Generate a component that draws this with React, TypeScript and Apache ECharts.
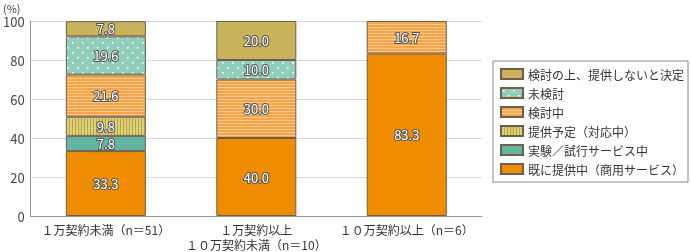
import React, { useEffect, useRef } from "react";
import * as echarts from "echarts";

const categories = [
  "１万契約未満（n＝51）",
  "１万契約以上\n１０万契約未満（n＝10）",
  "１０万契約以上（n＝6）",
];
const seriesNames = [
  "既に提供中（商用サービス）",
  "実験／試行サービス中",
  "提供予定（対応中）",
  "検討中",
  "未検討",
  "検討の上、提供しないと決定",
];
const providing = [33.3, 40.0, 83.3];
const trial = [7.8, null, null];
const planned = [9.8, null, null];
const considering = [21.6, 30.0, 16.7];
const notConsidered = [19.6, 10.0, null];
const decidedNot = [7.8, 20.0, null];
const yTicks = [0, 20, 40, 60, 80, 100];

function makeCanvas(w: number, h: number, draw: (c: CanvasRenderingContext2D) => void) {
  const cv = document.createElement("canvas");
  cv.width = w;
  cv.height = h;
  const ctx = cv.getContext("2d")!;
  draw(ctx);
  return { image: cv.toDataURL(), repeat: "repeat", imageWidth: w, imageHeight: h } as any;
}

export default function App() {
  const ref = useRef<HTMLDivElement>(null);
  useEffect(() => {
    if (!ref.current) return;
    const chart = echarts.init(ref.current, null, { renderer: "svg" });

    const hStripe = makeCanvas(4, 3, (c) => {
      c.fillStyle = "#F7A347";
      c.fillRect(0, 0, 4, 3);
      c.fillStyle = "#FCCB8F";
      c.fillRect(0, 0, 4, 1);
    });
    const vStripe = makeCanvas(3, 4, (c) => {
      c.fillStyle = "#DDD07A";
      c.fillRect(0, 0, 3, 4);
      c.fillStyle = "#B9A646";
      c.fillRect(0, 0, 1, 4);
    });
    const dots = makeCanvas(10, 10, (c) => {
      c.fillStyle = "#90CDBB";
      c.fillRect(0, 0, 10, 10);
      c.fillStyle = "#FFFFFF";
      c.fillRect(2, 2, 1.6, 1.6);
      c.fillRect(7, 7, 1.6, 1.6);
    });

    const fills: any[] = ["#F08C00", "#63B5A2", vStripe, hStripe, dots, "#C8B35A"];
    const datas = [providing, trial, planned, considering, notConsidered, decidedNot];

    const series = seriesNames.map((name, i) => ({
      name,
      type: "bar",
      stack: "total",
      barWidth: 80,
      data: datas[i],
      itemStyle: { color: fills[i], borderColor: "#6E5E4C", borderWidth: 1 },
      label: {
        show: true,
        position: "inside",
        color: "#FFFFFF",
        fontSize: 13,
        fontFamily: "Noto Sans CJK JP",
        textBorderColor: "#555555",
        textBorderWidth: 2,
        formatter: (p: any) => (p.value == null ? "" : Number(p.value).toFixed(1)),
      },
    }));

    chart.setOption({
      animation: false,
      textStyle: { fontFamily: "Noto Sans CJK JP" },
      grid: { left: 28, right: 209, top: 21, bottom: 31 },
      graphic: [
        {
          type: "text",
          left: 3,
          top: 2,
          style: { text: "(%)", fontSize: 11, fill: "#444", fontFamily: "Noto Sans CJK JP" },
        },
      ],
      legend: {
        orient: "vertical",
        left: 493,
        top: 61,
        width: 195,
        padding: [7, 4, 7, 7],
        itemWidth: 22,
        itemHeight: 10,
        itemGap: 7,
        icon: "rect",
        borderColor: "#888",
        borderWidth: 1,
        data: [...seriesNames].reverse(),
        textStyle: { fontSize: 12, color: "#333", fontFamily: "Noto Sans CJK JP" },
      },
      xAxis: {
        type: "category",
        data: categories,
        axisLine: { lineStyle: { color: "#999" } },
        axisTick: { inside: true, length: 5, lineStyle: { color: "#999" } },
        axisLabel: { color: "#333", fontSize: 12, lineHeight: 15, margin: 6, interval: 0 },
      },
      yAxis: {
        type: "value",
        min: yTicks[0],
        max: yTicks[yTicks.length - 1],
        interval: 20,
        axisLine: { show: true, lineStyle: { color: "#999" } },
        axisTick: { show: false },
        axisLabel: { color: "#444", fontSize: 13, margin: 6 },
        splitLine: { lineStyle: { color: "#D8D8D8" } },
      },
      series,
    });
    return () => chart.dispose();
  }, []);
  return <div ref={ref} style={{ position: "fixed", left: 0, top: 0, width: 691, height: 252 }} />;
}
